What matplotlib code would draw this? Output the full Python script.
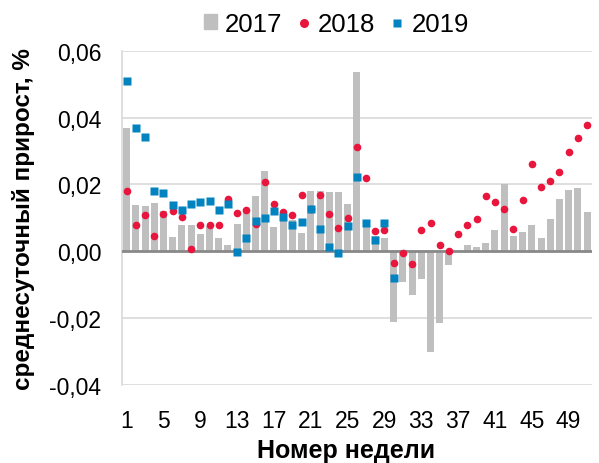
import matplotlib.pyplot as plt
import numpy as np
from matplotlib.patches import Patch
from matplotlib.lines import Line2D
from matplotlib.ticker import FuncFormatter

plt.rcParams['font.family'] = ['Liberation Sans', 'DejaVu Sans']

weeks = np.arange(1, 52)
week_labels = [1, 5, 9, 13, 17, 21, 25, 29, 33, 37, 41, 45, 49]

y2017 = [0.0369, 0.0139, 0.0136, 0.0143, 0.0122, 0.0043, 0.0078, 0.0078, 0.0052, 0.0076,
         0.0039, 0.0019, 0.0081, 0.0121, 0.0166, 0.0241, 0.0073, 0.0118, 0.0095, 0.0055,
         0.0181, 0.0181, 0.0178, 0.0178, 0.0141, 0.0536, 0.0075, 0.0047, 0.0041, -0.0210,
         -0.0092, -0.0131, -0.0082, -0.0301, -0.0215, -0.0041, 0.0000, 0.0020, 0.0014, 0.0025,
         0.0065, 0.0202, 0.0046, 0.0058, 0.0080, 0.0040, 0.0098, 0.0155, 0.0182, 0.0190, 0.0118]

y2018 = [0.0179, 0.0078, 0.0108, 0.0046, 0.0113, 0.0121, 0.0102, 0.0008, 0.0079, 0.0079,
         0.0079, 0.0156, 0.0114, 0.0124, 0.0081, 0.0208, 0.0140, 0.0118, 0.0110, 0.0169,
         0.0128, 0.0169, 0.0113, 0.0069, 0.0099, 0.0312, 0.0219, 0.0062, 0.0065, -0.0035,
         -0.0006, -0.0039, 0.0065, 0.0086, 0.0019, 0.0000, 0.0053, 0.0078, 0.0096, 0.0165,
         0.0148, 0.0128, 0.0067, 0.0152, 0.0260, 0.0193, 0.0210, 0.0236, 0.0298, 0.0338, 0.0379]

y2019 = [0.0509, 0.0368, 0.0341, 0.0179, 0.0173, 0.0137, 0.0125, 0.0141, 0.0147, 0.0149,
         0.0125, 0.0141, -0.0001, 0.0041, 0.0092, 0.0101, 0.0122, 0.0104, 0.0080, 0.0089,
         0.0128, 0.0068, 0.0014, -0.0004, 0.0077, 0.0223, 0.0086, 0.0035, 0.0086, -0.0079]

c17 = '#bfbfbf'
c18 = '#e8163c'
c19 = '#0083be'

fig = plt.figure(figsize=(5.99, 4.64), dpi=100)
ax = fig.add_axes([0.2037, 0.168, 0.7841, 0.7206])

ax.bar(weeks, y2017, width=0.76, color=c17, zorder=2)
ax.axhline(0, color='#898989', lw=2, zorder=3)
ax.plot(weeks, y2018, 'o', color=c18, ms=5.5, mec='none', zorder=4)
ax.plot(weeks[:len(y2019)], y2019, 's', color=c19, ms=5.3, mec='none', zorder=5)

ax.set_xlim(0.5, 51.5)
ax.set_ylim(-0.04, 0.06)
ax.set_yticks([-0.04, -0.02, 0.0, 0.02, 0.04, 0.06])
ax.yaxis.set_major_formatter(FuncFormatter(lambda v, p: f"{v:.2f}".replace('.', ',')))
ax.set_xticks(week_labels)
ax.grid(axis='y', color='#d9d9d9', lw=1.2, zorder=0)
ax.tick_params(axis='both', length=0, labelsize=16.5)
ax.tick_params(axis='x', pad=17)
ax.tick_params(axis='y', pad=15)

for s in ['top', 'right', 'bottom']:
    ax.spines[s].set_visible(False)
ax.spines['left'].set_color('#d9d9d9')
ax.spines['left'].set_linewidth(1.2)

ax.set_ylabel('среднесуточный прирост, %', fontsize=17.5, fontweight='bold')
ax.yaxis.set_label_coords(-0.185, 0.5)
ax.set_xlabel('Номер недели', fontsize=18, fontweight='bold')
ax.xaxis.set_label_coords(0.477, -0.158)

handles = [Patch(color=c17, label='2017'),
           Line2D([], [], ls='none', marker='o', color=c18, ms=6.5, mec='none', label='2018'),
           Line2D([], [], ls='none', marker='s', color=c19, ms=5.5, mec='none', label='2019')]
ax.legend(handles=handles, ncol=3, loc='center', bbox_to_anchor=(0.457, 1.08),
          frameon=False, fontsize=18.5, handlelength=0.5, handleheight=0.5,
          handletextpad=0.3, columnspacing=0.6, borderaxespad=0, borderpad=0)

plt.savefig('out.png')
